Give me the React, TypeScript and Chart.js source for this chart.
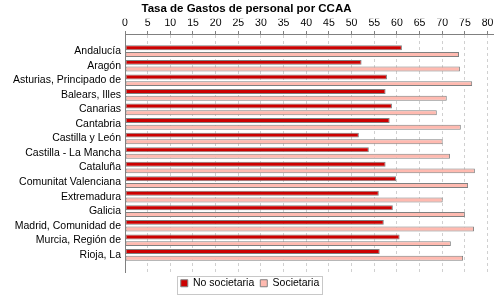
import React, { useEffect, useRef } from "react";
import { Chart, registerables } from "chart.js";

Chart.register(...registerables);

const categories = [
  "Andalucía",
  "Aragón",
  "Asturias, Principado de",
  "Balears, Illes",
  "Canarias",
  "Cantabria",
  "Castilla y León",
  "Castilla - La Mancha",
  "Cataluña",
  "Comunitat Valenciana",
  "Extremadura",
  "Galicia",
  "Madrid, Comunidad de",
  "Murcia, Región de",
  "Rioja, La",
];

const noSocietaria = [61.1, 52.2, 57.8, 57.5, 58.9, 58.4, 51.6, 53.8, 57.5, 59.8, 56.0, 59.1, 57.1, 60.6, 56.2];
const societaria = [73.7, 73.9, 76.6, 71.0, 68.8, 74.1, 70.1, 71.7, 77.2, 75.7, 70.1, 75.0, 77.0, 71.9, 74.6];

const xTicks = [0, 5, 10, 15, 20, 25, 30, 35, 40, 45, 50, 55, 60, 65, 70, 75, 80];

const seriesNames = ["No societaria", "Societaria"];

const FONT = "'Liberation Sans', Arial, sans-serif";

const legendTweak = {
  id: "legendTweak",
  afterLayout(chart: any) {
    const lg = chart.legend;
    if (lg) {
      lg.left += 3.5;
      lg.right += 3.5;
    }
  },
  afterDraw(chart: any) {
    const boxes = chart.legend && chart.legend.legendHitBoxes;
    if (!boxes || !boxes.length) return;
    let l = Infinity, r = -Infinity, t = Infinity, b = -Infinity;
    for (const h of boxes) {
      l = Math.min(l, h.left);
      r = Math.max(r, h.left + h.width);
      t = Math.min(t, h.top);
      b = Math.max(b, h.top + h.height);
    }
    const cy = (t + b) / 2;
    const ctx = chart.ctx;
    ctx.save();
    ctx.strokeStyle = "#c8c8c8";
    ctx.lineWidth = 1;
    const x0 = Math.round(l - 4) + 0.5;
    const y0 = Math.round(cy - 7) + 0.5;
    ctx.strokeRect(x0, y0, Math.round(r - l + 7), 18);
    ctx.restore();
  },
};

export default function App() {
  const ref = useRef<HTMLCanvasElement | null>(null);

  useEffect(() => {
    document.body.style.margin = "0";
    const canvas = ref.current;
    if (!canvas) return;
    const chart = new Chart(canvas, {
      type: "bar",
      data: {
        datasets: [
          {
            label: seriesNames[0],
            data: noSocietaria.map((v, i) => ({ x: v, y: i })),
            backgroundColor: "#cc0000",
            borderColor: "#808080",
            borderWidth: 1,
            borderSkipped: false,
          },
          {
            label: seriesNames[1],
            data: societaria.map((v, i) => ({ x: v, y: i })),
            backgroundColor: "#ffbab0",
            borderColor: "#808080",
            borderWidth: 1,
            borderSkipped: false,
          },
        ],
      },
      options: {
        animation: false,
        responsive: false,
        indexAxis: "y",
        layout: { padding: { left: 0, right: 7, top: 0, bottom: 1.5 } },
        categoryPercentage: 0.92,
        barPercentage: 0.74,
        scales: {
          x: {
            type: "linear",
            position: "top",
            min: 0,
            max: 81.2,
            afterBuildTicks: (s: any) => {
              s.ticks = xTicks.map((v) => ({ value: v }));
            },
            afterFit: (s: any) => {
              s.height = 15.2;
            },
            ticks: {
              color: "#000",
              font: { family: FONT, size: 10.5 },
              padding: 2,
              autoSkip: false,
              maxRotation: 0,
            },
            grid: {
              color: "#d0d0d0",
              tickColor: "#808080",
              tickLength: 3,
              drawTicks: true,
            },
            border: { display: true, color: "#808080", dash: [3, 3] },
          },
          y: {
            type: "linear",
            reverse: true,
            offset: false,
            min: -1.18,
            max: 15.18,
            afterBuildTicks: (s: any) => {
              s.ticks = categories.map((_, i) => ({ value: i }));
            },
            afterFit: (s: any) => {
              s.width = 125;
            },
            ticks: {
              color: "#000",
              font: { family: FONT, size: 10.5 },
              padding: 4,
              autoSkip: false,
              callback: (v: any) => categories[v] ?? "",
            },
            grid: { display: false, drawTicks: false, offset: false },
            border: { display: true, color: "#808080" },
          },
        },
        plugins: {
          title: {
            display: true,
            text: "Tasa de Gastos de personal por CCAA",
            color: "#000",
            font: { family: FONT, size: 11.5, weight: "bold" },
            padding: { top: 2, bottom: 3 },
          },
          legend: {
            display: true,
            position: "bottom",
            labels: {
              boxWidth: 7,
              boxHeight: 7,
              padding: 6,
              color: "#000",
              font: { family: FONT, size: 10.5 },
              generateLabels: (c: any) =>
                c.data.datasets.map((d: any, i: number) => ({
                  text: d.label,
                  fillStyle: d.backgroundColor,
                  strokeStyle: "#808080",
                  lineWidth: 1,
                  datasetIndex: i,
                  fontColor: "#000",
                })),
            },
          },
          tooltip: { enabled: false },
        },
      },
      plugins: [legendTweak],
    } as any);
    return () => chart.destroy();
  }, []);

  return (
    <div style={{ width: 500, height: 300, background: "#fff" }}>
      <canvas ref={ref} width={500} height={300} style={{ display: "block" }} />
    </div>
  );
}
